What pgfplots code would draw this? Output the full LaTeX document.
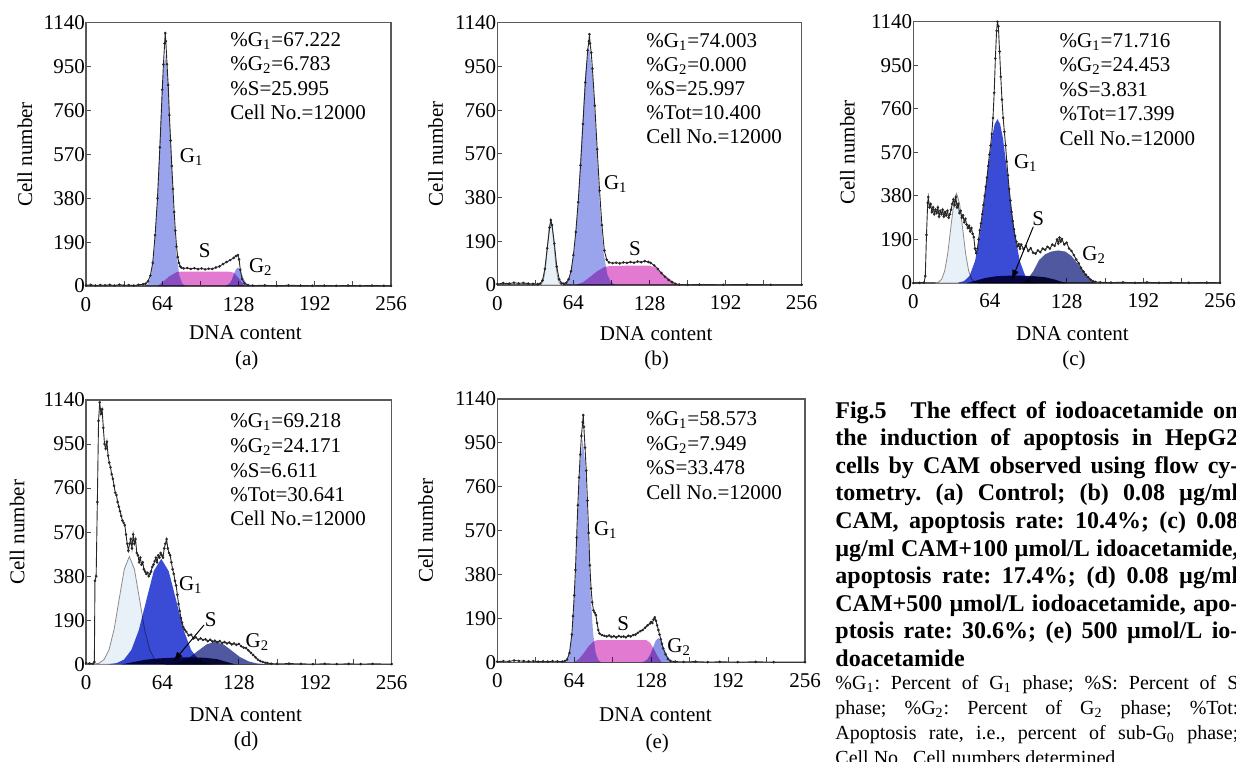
\documentclass[border=0pt]{standalone}
\usepackage{pgfplots}
\pgfplotsset{compat=1.18}
\usepackage{fontspec}
\setmainfont{Liberation Serif}
\usetikzlibrary{arrows.meta}

\definecolor{gone}{HTML}{9AA4EC}
\definecolor{sph}{HTML}{E27AD2}
\definecolor{gtwo}{HTML}{8C96E6}
\definecolor{gonedark}{HTML}{3A4BD6}
\definecolor{sdark}{HTML}{161650}
\definecolor{gtwodark}{HTML}{5058A0}
\definecolor{subg}{HTML}{E8F0F8}

\newcommand\tfont{\fontsize{10.5}{12.5}\selectfont}
\pgfplotsset{
  flow/.style={
    scale only axis, anchor=south west,
    xmin=0, xmax=256, ymin=0, ymax=1140,
    xtick={0,64,128,192,256}, minor xtick={32,96,160,224},
    ytick={0,190,380,570,760,950,1140},
    scaled ticks=false,
    tick align=inside, tick pos=left,
    major tick length=2.5pt, minor tick length=2.5pt,
    axis line style={black!65, line width=0.6pt},
    tick style={black!70, line width=0.5pt},
    /pgf/number format/assume math mode=true,
    /pgf/number format/1000 sep={},
    xticklabel style={font=\tfont, yshift=-2pt},
    yticklabel style={font=\tfont, xshift=3pt},
    label style={font=\tfont},
    xlabel={DNA content}, ylabel={Cell number},
    xlabel style={anchor=center}, ylabel style={anchor=center},
  },
  fit/.style={draw=none, blend mode=multiply},
  hist/.style={black!85, line width=0.45pt, mark=*, mark size=0.4pt},
  sub/.style={fill=subg, draw=black!45, line width=0.4pt},
}
\newcommand\jl[1]{\makebox[201.5pt][s]{#1}}

\begin{document}
\frenchspacing
\begin{tikzpicture}[font=\tfont]
\useasboundingbox (0,0) rectangle (618pt,-380.5pt);
\clip (0,0) rectangle (618pt,-380.5pt);

% (a) control
\begin{axis}[flow, at={(43pt,-143pt)}, width=152.5pt, height=131.65pt,
  xlabel style={at={(axis description cs:0.523,-0.179)}},
  ylabel style={at={(axis description cs:-0.2,0.5)}}]
\addplot[fit, fill=gone] coordinates {(49.9,2)(52.25,11)(54.6,44)(57.0,135)(59.4,325)(61.75,607)(64.1,883)(66.5,1000)(68.9,883)(71.25,607)(73.6,325)(76.0,135)(78.4,44)(80.75,11)(83.1,2)} \closedcycle;
\addplot[fit, fill=sph] coordinates {(60,0)(65,20)(70,42)(76,60)(80,62)(100,62)(120,62)(124,58)(128,35)(133,0)} \closedcycle;
\addplot[fit, fill=gtwo] coordinates {(117,1)(120.5,11)(122.25,26)(124,49)(125.75,71)(127.5,80)(129.25,71)(131,49)(132.75,26)(134.5,11)(138,1)} \closedcycle;
\addplot[hist] coordinates {(0,3)(4,5)(8,2)(12,4)(16,3)(20,5)(24,2)(28,6)(32,3)(36,4)(40,2)(44,5)(48,8)(50,10)(52,20)(54,45)(56,100)(58,220)(60,380)(62,600)(64,850)(65,960)(66,1050)(66.5,1095)(67,1060)(68,960)(69,870)(70,740)(71,630)(72,520)(73,420)(74,320)(75,240)(76,170)(77,125)(78,100)(79,85)(80,80)(82,76)(85,78)(88,74)(91,77)(94,73)(97,76)(100,72)(103,75)(106,74)(109,80)(112,85)(115,95)(118,104)(121,112)(124,122)(126,130)(127.5,134)(128.5,115)(129.5,70)(131,30)(133,12)(136,4)(140,2)(150,3)(160,1)(170,3)(180,2)(190,1)(200,2)(210,1)(220,2)(230,1)(240,2)(250,1)(256,1)};
\end{axis}

% (b)
\begin{axis}[flow, at={(248.65pt,-142.5pt)}, width=152.2pt, height=131.15pt,
  xlabel style={at={(axis description cs:0.522,-0.184)}},
  ylabel style={at={(axis description cs:-0.202,0.5)}}]
\addplot[sub] coordinates {(35.2,1)(36.6,3)(38.0,12)(39.4,38)(40.8,91)(42.2,170)(43.6,247)(45,280)(46.4,247)(47.8,170)(49.2,91)(50.6,38)(52.0,12)(53.4,3)(54.8,1)} \closedcycle;
\addplot[fit, fill=gone] coordinates {(55.3,2)(58.4,12)(61.5,46)(64.6,141)(67.7,338)(70.8,631)(73.9,918)(77,1040)(80.1,918)(83.2,631)(86.3,338)(89.4,141)(92.5,46)(95.6,12)(98.7,2)} \closedcycle;
\addplot[fit, fill=sph] coordinates {(66,0)(72,12)(78,35)(84,60)(90,78)(94,82)(110,84)(128,84)(132,78)(138,55)(144,30)(150,8)(153,0)} \closedcycle;
\addplot[hist] coordinates {(0,4)(5,8)(10,6)(14,10)(18,7)(22,9)(26,6)(30,5)(34,4)(36,6)(38,20)(40,70)(42,160)(44,250)(45,282)(46,260)(48,180)(50,80)(52,25)(54,8)(56,6)(58,10)(60,25)(62,60)(64,130)(66,230)(68,360)(70,520)(72,700)(74,880)(76,1020)(77,1060)(77.5,1090)(78,1050)(79,1010)(80,940)(82,780)(84,590)(86,410)(88,260)(90,150)(92,110)(94,98)(97,95)(100,97)(103,94)(106,98)(109,96)(112,100)(115,97)(118,102)(121,99)(124,104)(127,100)(129,96)(132,85)(135,70)(138,52)(141,36)(144,22)(147,12)(150,5)(153,2)(160,1)(170,2)(190,1)(210,2)(230,1)(256,1)};
\end{axis}

% (c)
\begin{axis}[flow, at={(456.65pt,-141.5pt)}, width=153.35pt, height=130.65pt,
  xlabel style={at={(axis description cs:0.519,-0.193)}},
  ylabel style={at={(axis description cs:-0.215,0.5)}}]
\addplot[sub] coordinates {(18.7,1)(21.2,4)(23.7,17)(26.2,53)(28.7,127)(31.2,237)(33.7,344)(36.2,390)(38.7,344)(41.2,237)(43.7,127)(46.2,53)(48.7,17)(51.2,4)(53.7,1)} \closedcycle;
\addplot[fit, fill=gonedark] coordinates {(37.65,2)(42.3,8)(46.95,31)(51.6,97)(56.25,232)(60.9,434)(65.55,631)(67.9,693)(70.2,715)(72.5,693)(74.85,631)(79.5,434)(84.15,232)(88.8,97)(93.45,31)(98.1,8)(102.75,2)} \closedcycle;
\addplot[fit, fill=sdark] coordinates {(45,0)(52,10)(60,22)(70,30)(80,32)(90,32)(100,30)(110,25)(118,15)(124,5)(128,0)} \closedcycle;
\addplot[fit, fill=gtwodark] coordinates {(90,0)(95,15)(100,50)(105,100)(110,125)(115,137)(121,142)(127,137)(132,118)(137,85)(142,50)(146,22)(150,5)(153,0)} \closedcycle;
\addplot[hist] coordinates {(0,0)(5,1)(9,2)(10,30)(11,210)(12,350)(12.5,375)(13.5,330)(14.5,345)(15.5,310)(16.5,330)(17.5,300)(18.5,320)(19.5,305)(20.5,330)(21.5,290)(22.5,315)(23.5,300)(24.5,320)(25.5,290)(26.5,310)(27.5,295)(28.5,315)(29.5,285)(30.5,300)(31.5,320)(32.5,345)(33.5,365)(34.5,340)(35.5,375)(36.5,330)(37.5,345)(38.5,305)(39.5,315)(40.5,285)(41.5,295)(42.5,265)(43.5,280)(44.5,255)(45.5,240)(46.5,250)(47.5,225)(48.5,240)(49.5,215)(50.5,200)(51.5,150)(52.5,130)(53.5,150)(54.5,190)(55.5,230)(56.5,260)(57.5,300)(58.5,340)(59.5,380)(60.5,420)(61.5,460)(62.5,510)(63.5,560)(64.5,600)(65.5,650)(66.5,720)(67.5,830)(68.5,980)(69.5,1100)(70.2,1140)(71,1120)(72,1010)(73,900)(74,800)(75,720)(76,660)(77,600)(78,530)(79,470)(80,410)(81,360)(82,310)(83,270)(84,235)(85,205)(86,180)(87,160)(88,170)(89,150)(90,168)(92,148)(94,162)(96,140)(98,152)(100,132)(102,128)(104,142)(106,135)(108,150)(110,145)(112,158)(114,150)(116,168)(118,162)(120,190)(121,172)(122,198)(123,180)(124,192)(126,168)(128,176)(130,150)(132,140)(134,122)(136,102)(138,86)(140,66)(142,50)(144,36)(146,25)(148,15)(150,8)(152,5)(156,3)(165,2)(175,3)(185,1)(195,3)(205,1)(215,2)(230,1)(245,2)(256,1)};
\end{axis}

% (d)
\begin{axis}[flow, at={(43pt,-332.15pt)}, width=152.85pt, height=132.15pt,
  xlabel style={at={(axis description cs:0.522,-0.192)}},
  ylabel style={at={(axis description cs:-0.225,0.5)}}]
\addplot[sub] coordinates {(6.55,1)(10.8,5)(15.05,20)(19.3,63)(23.55,151)(27.8,282)(32.05,410)(36.3,465)(40.55,410)(44.8,282)(49.05,151)(53.3,63)(57.55,20)(61.8,5)(66.05,1)} \closedcycle;
\addplot[fit, fill=gonedark] coordinates {(19.25,1)(25.5,5)(31.75,20)(38,62)(44.25,148)(50.5,276)(56.75,402)(63,455)(69.25,402)(75.5,276)(81.75,148)(88,62)(94.25,20)(100.5,5)(106.75,1)} \closedcycle;
\addplot[fit, fill=sdark] coordinates {(30,0)(40,10)(50,20)(60,25)(70,28)(80,30)(90,30)(100,28)(110,22)(118,10)(125,0)} \closedcycle;
\addplot[fit, fill=gtwodark] coordinates {(66,1)(73,4)(80,13)(87,31)(94,59)(101,86)(108,97)(115,86)(122,59)(129,31)(136,13)(143,4)(150,1)} \closedcycle;
\addplot[hist] coordinates {(0,5)(3,4)(6,3)(7,10)(7.5,360)(8.5,380)(9.5,700)(10.5,1050)(11.5,1130)(12.5,1080)(13.5,1100)(14.5,1020)(15.5,950)(16.5,930)(17.5,960)(18.5,900)(19.5,870)(20.5,850)(21.5,820)(22.5,800)(23.5,770)(24.5,740)(25.5,730)(26.5,700)(27.5,680)(28.5,660)(29.5,640)(30.5,620)(31.5,610)(32.5,600)(33.5,560)(34.5,520)(35.5,490)(36.5,520)(37.5,540)(38.5,500)(39.5,560)(40.5,520)(41.5,540)(42.5,480)(43.5,470)(44.5,440)(45.5,460)(46.5,430)(47.5,440)(48.5,410)(49.5,400)(50.5,390)(51.5,395)(52.5,380)(53.5,390)(54.5,400)(55.5,420)(56.5,430)(57.5,445)(58.5,460)(59.5,440)(60.5,470)(61.5,460)(62.5,480)(63.5,470)(64.5,460)(65.5,500)(66.5,520)(67.5,540)(68.5,500)(69.5,480)(70.5,470)(71.5,440)(72.5,410)(73.5,390)(74.5,360)(75.5,340)(76.5,300)(77.5,260)(78.5,230)(79.5,200)(80.5,180)(81.5,160)(82.5,150)(84,140)(86,125)(88,128)(90,112)(92,116)(94,106)(96,112)(98,105)(100,108)(102,100)(104,106)(106,98)(108,102)(110,95)(112,100)(114,92)(116,96)(118,90)(120,94)(122,86)(124,90)(126,84)(128,88)(130,78)(132,72)(134,70)(136,60)(138,50)(140,40)(142,30)(144,20)(146,14)(148,10)(150,7)(152,5)(155,3)(160,2)(170,3)(180,2)(190,1)(200,2)(210,1)(220,2)(230,1)(240,2)(256,1)};
\end{axis}

% (e)
\begin{axis}[flow, at={(248.65pt,-331.15pt)}, width=153.85pt, height=131.65pt,
  xlabel style={at={(axis description cs:0.514,-0.2)}},
  ylabel style={at={(axis description cs:-0.233,0.5)}}]
\addplot[fit, fill=gone] coordinates {(55.95,2)(58.1,11)(60.25,43)(62.4,131)(64.55,315)(66.7,588)(68.85,856)(71,970)(73.15,856)(75.3,588)(77.45,315)(79.6,131)(81.75,43)(83.9,11)(86.05,2)} \closedcycle;
\addplot[fit, fill=sph] coordinates {(64,0)(68,15)(72,40)(76,70)(80,90)(83,96)(100,96)(124,96)(127,85)(130,60)(133,30)(136,5)(137,0)} \closedcycle;
\addplot[fit, fill=gtwo] coordinates {(120.5,1)(122.75,5)(125,14)(127.25,34)(129.5,64)(131.75,93)(134,105)(136.25,93)(138.5,64)(140.75,34)(143,14)(145.25,5)(147.5,1)} \closedcycle;
\addplot[hist] coordinates {(0,3)(5,5)(10,4)(14,8)(18,6)(22,5)(26,4)(30,5)(34,3)(38,4)(42,3)(46,5)(50,4)(54,3)(56,5)(58,12)(60,40)(62,120)(63,200)(64,290)(65,400)(66,540)(67,680)(68,800)(69,900)(70,980)(71,1040)(71.5,1070)(72,1020)(73,930)(74,830)(75,700)(76,560)(77,420)(78,320)(79,260)(80,225)(81,215)(82,205)(83,170)(84,140)(85,125)(87,118)(89,115)(91,112)(93,116)(95,110)(97,113)(99,108)(101,114)(103,110)(105,112)(107,108)(109,115)(111,112)(113,118)(115,120)(117,128)(119,135)(121,140)(123,150)(125,160)(127,168)(128,175)(129,170)(130,185)(131,195)(132,180)(133,160)(134,140)(135,120)(136,100)(137,80)(138,60)(140,35)(142,15)(144,6)(148,3)(155,2)(165,3)(175,1)(185,2)(200,1)(215,2)(230,1)(256,1)};
\end{axis}

% statistics
\node[anchor=base west, inner sep=0] at (115pt,-23.15pt) {\%G\textsubscript{1}=67.222};
\node[anchor=base west, inner sep=0] at (115pt,-35.35pt) {\%G\textsubscript{2}=6.783};
\node[anchor=base west, inner sep=0] at (115pt,-47.55pt) {\%S=25.995};
\node[anchor=base west, inner sep=0] at (115pt,-59.75pt) {Cell No.=12000};

\node[anchor=base west, inner sep=0] at (323pt,-23.5pt) {\%G\textsubscript{1}=74.003};
\node[anchor=base west, inner sep=0] at (323pt,-35.5pt) {\%G\textsubscript{2}=0.000};
\node[anchor=base west, inner sep=0] at (323pt,-47.65pt) {\%S=25.997};
\node[anchor=base west, inner sep=0] at (323pt,-59.85pt) {\%Tot=10.400};
\node[anchor=base west, inner sep=0] at (323pt,-71.85pt) {Cell No.=12000};

\node[anchor=base west, inner sep=0] at (529.65pt,-23.5pt) {\%G\textsubscript{1}=71.716};
\node[anchor=base west, inner sep=0] at (529.65pt,-35.65pt) {\%G\textsubscript{2}=24.453};
\node[anchor=base west, inner sep=0] at (529.65pt,-48.15pt) {\%S=3.831};
\node[anchor=base west, inner sep=0] at (529.65pt,-60.15pt) {\%Tot=17.399};
\node[anchor=base west, inner sep=0] at (529.65pt,-72.65pt) {Cell No.=12000};

\node[anchor=base west, inner sep=0] at (115pt,-213.5pt) {\%G\textsubscript{1}=69.218};
\node[anchor=base west, inner sep=0] at (115pt,-226pt) {\%G\textsubscript{2}=24.171};
\node[anchor=base west, inner sep=0] at (115pt,-238.5pt) {\%S=6.611};
\node[anchor=base west, inner sep=0] at (115pt,-250.65pt) {\%Tot=30.641};
\node[anchor=base west, inner sep=0] at (115pt,-262.65pt) {Cell No.=12000};

\node[anchor=base west, inner sep=0] at (323pt,-212.65pt) {\%G\textsubscript{1}=58.573};
\node[anchor=base west, inner sep=0] at (323pt,-225.15pt) {\%G\textsubscript{2}=7.949};
\node[anchor=base west, inner sep=0] at (323pt,-237.35pt) {\%S=33.478};
\node[anchor=base west, inner sep=0] at (323pt,-249.65pt) {Cell No.=12000};

% phase labels
\node at (95.85pt,-78.65pt) {G\textsubscript{1}};
\node at (102.35pt,-125.35pt) {S};
\node at (130.4pt,-133.35pt) {G\textsubscript{2}};
\node at (307.9pt,-92.15pt) {G\textsubscript{1}};
\node at (317.5pt,-124.15pt) {S};
\node at (512.9pt,-81.65pt) {G\textsubscript{1}};
\node at (519.15pt,-109.15pt) {S};
\node at (547.1pt,-127.5pt) {G\textsubscript{2}};
\draw[-{Latex[length=5pt,width=3.5pt]}, line width=0.5pt] (516.65pt,-113.35pt) -- (505.85pt,-140pt);
\node at (95.4pt,-292.5pt) {G\textsubscript{1}};
\node at (105.4pt,-310pt) {S};
\node at (128.75pt,-320.85pt) {G\textsubscript{2}};
\draw[-{Latex[length=5pt,width=3.5pt]}, line width=0.5pt] (102pt,-312.5pt) -- (86.65pt,-330.85pt);
\node at (302.9pt,-265pt) {G\textsubscript{1}};
\node at (311.65pt,-311.65pt) {S};
\node at (339.6pt,-323.35pt) {G\textsubscript{2}};

% panel letters
\node at (123.35pt,-180pt) {(a)};
\node at (328.35pt,-180pt) {(b)};
\node at (537pt,-180pt) {(c)};
\node at (123pt,-370.85pt) {(d)};
\node at (328.65pt,-371.65pt) {(e)};

% caption
\node[anchor=base west, inner sep=0] at (417.5pt,-209pt) {\parbox[t]{201.5pt}{\fontsize{12}{13.8}\selectfont\bfseries
\jl{Fig.5\quad The effect of iodoacetamide on}\\
\jl{the induction of apoptosis in HepG2}\\
\jl{cells by CAM observed using flow cy-}\\
\jl{tometry. (a) Control; (b) 0.08 µg/ml}\\
\jl{CAM, apoptosis rate: 10.4\%; (c) 0.08}\\
\jl{µg/ml CAM+100 µmol/L idoacetamide,}\\
\jl{apoptosis rate: 17.4\%; (d) 0.08 µg/ml}\\
\jl{CAM+500 µmol/L iodoacetamide, apo-}\\
\jl{ptosis rate: 30.6\%; (e) 500 µmol/L io-}\\
doacetamide}};
\node[anchor=base west, inner sep=0] at (417.5pt,-344.95pt) {\parbox[t]{201.5pt}{\fontsize{10}{12.5}\selectfont
\jl{\%G\textsubscript{1}: Percent of G\textsubscript{1} phase; \%S: Percent of S}\\
\jl{phase; \%G\textsubscript{2}: Percent of G\textsubscript{2} phase; \%Tot:}\\
\jl{Apoptosis rate, i.e., percent of sub-G\textsubscript{0} phase;}\\
Cell No., Cell numbers determined}};
\end{tikzpicture}
\end{document}
